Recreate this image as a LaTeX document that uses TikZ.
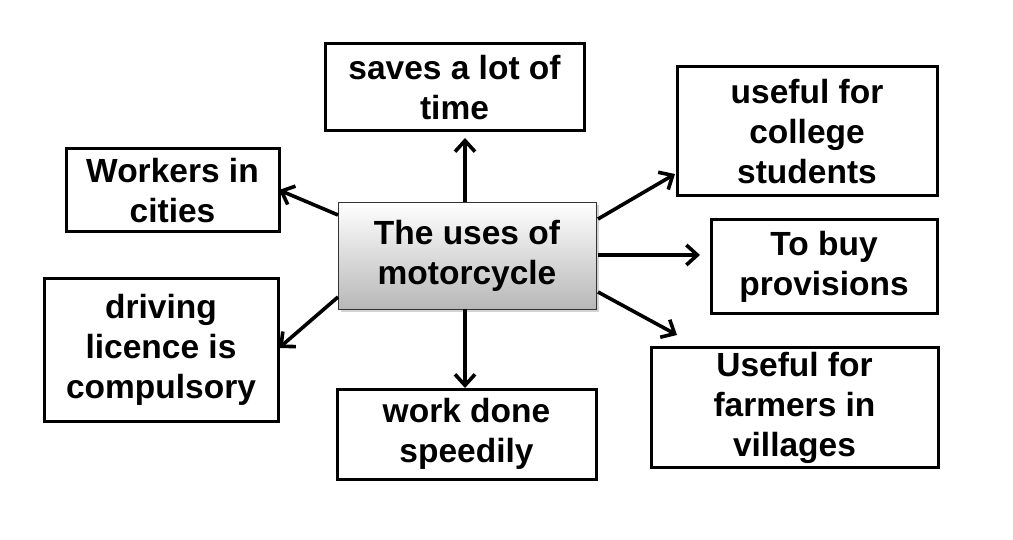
\documentclass[tikz,border=0pt]{standalone}
\usepackage{fontspec}
\setmainfont{Liberation Sans}
\usetikzlibrary{arrows.meta,shadows}
\begin{document}
\begin{tikzpicture}[x=1pt,y=-1pt,
  box/.style={draw=black,line width=3pt,align=center,inner sep=0pt,
    font=\fontsize{33.5}{40}\selectfont\bfseries},
  hub/.style={box,line width=0.8pt,draw=black!80,top color=white,bottom color=black!28,
    drop shadow={shadow xshift=3pt,shadow yshift=-3pt,opacity=0.35}},
  arr/.style={line width=3.6pt,-{Straight Barb[length=11pt,width=20pt,line width=3.6pt]}}]
\useasboundingbox (0,0) rectangle (1013,540);
\node[hub,minimum width=258pt,minimum height=107pt] (c) at (467,255.5) {The uses of\\motorcycle};
\node[box,minimum width=259pt,minimum height=87pt] (t) at (454.5,87.5) {saves a lot of\\time};
\node[box,minimum width=260pt,minimum height=129pt] (ru) at (807,131.5) {useful for\\college\\students};
\node[box,minimum width=213pt,minimum height=83pt] (lu) at (172.5,190.5) {Workers in\\cities};
\node[box,minimum width=226pt,minimum height=94pt] (r) at (824,267) {To buy\\provisions};
\node[box,minimum width=234pt,minimum height=142pt] (ld) at (161,350) {driving\\licence is\\compulsory};
\node[box,minimum width=259pt,minimum height=90pt] (b) at (466.5,434) {work done\\speedily};
\node[box,minimum width=287pt,minimum height=119pt] (rd) at (794.5,407.5) {Useful for\\farmers in\\villages};
\coordinate (tE) at (465,138);
\coordinate (luE) at (279,190);
\coordinate (ldE) at (279,348);
\coordinate (bE) at (465,388);
\coordinate (ruE) at (675,174);
\coordinate (rE) at (700,255);
\coordinate (rdE) at (677,335);
\draw[arr] (c.north -| tE) -- (tE);
\draw[arr] (338,215) -- (luE);
\draw[arr] (338,297) -- (ldE);
\draw[arr] (c.south -| bE) -- (bE);
\draw[arr] (598,219) -- (ruE);
\draw[arr] (598,255) -- (rE);
\draw[arr] (598,292) -- (rdE);
\end{tikzpicture}
\end{document}
